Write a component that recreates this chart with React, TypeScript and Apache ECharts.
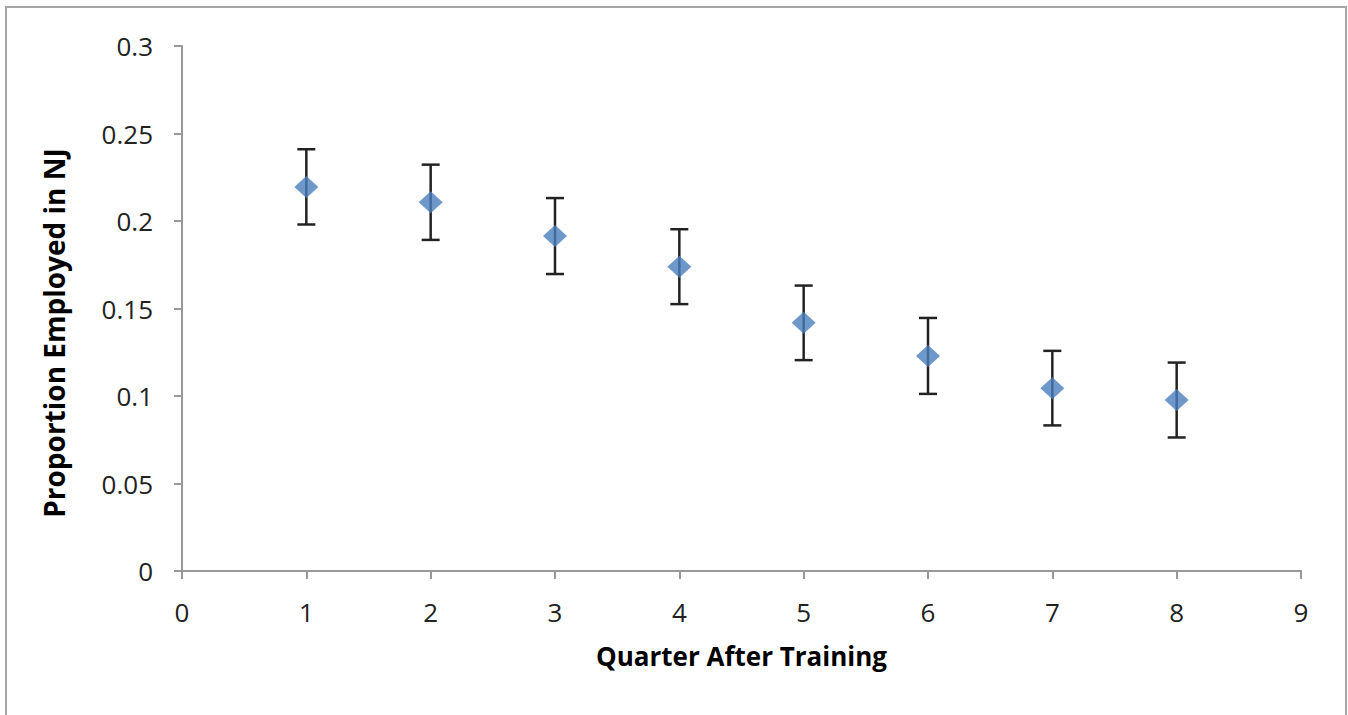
import React, { useEffect, useRef } from "react";
import * as echarts from "echarts";

const quarters = [1, 2, 3, 4, 5, 6, 7, 8];
const proportions = [0.2195, 0.2107, 0.1914, 0.1739, 0.1418, 0.1229, 0.1045, 0.0977];
const errors = [0.0215, 0.0215, 0.0217, 0.0214, 0.0213, 0.0217, 0.0213, 0.0214];
const xTicks = [0, 1, 2, 3, 4, 5, 6, 7, 8, 9];
const yTicks = [0, 0.05, 0.1, 0.15, 0.2, 0.25, 0.3];
const xTitle = "Quarter After Training";
const yTitle = "Proportion Employed in NJ";

export default function App() {
  const ref = useRef<HTMLDivElement>(null);
  useEffect(() => {
    if (!ref.current) return;
    const chart = echarts.init(ref.current, null, { renderer: "svg" });
    const font = "'Open Sans', Lato, sans-serif";
    const errData = quarters.map((q, i) => [q, proportions[i] - errors[i], proportions[i] + errors[i]]);
    chart.setOption({
      animation: false,
      backgroundColor: "#ffffff",
      graphic: [
        {
          type: "rect",
          shape: { x: 6, y: 7, width: 1340, height: 740 },
          style: { fill: "none", stroke: "#a6a6a6", lineWidth: 2 },
          silent: true,
        },
        {
          type: "text",
          x: 54,
          y: 333,
          rotation: Math.PI / 2,
          style: {
            text: yTitle,
            fontFamily: font,
            fontWeight: "bold",
            fontSize: 28,
            fill: "#000",
            textAlign: "center",
            textVerticalAlign: "middle",
          },
        },
      ],
      grid: { left: 182, right: 47, top: 46, bottom: 144 },
      xAxis: {
        type: "value",
        min: xTicks[0],
        max: xTicks[xTicks.length - 1],
        interval: 1,
        name: xTitle,
        nameLocation: "middle",
        nameGap: 72,
        nameTextStyle: { fontFamily: font, fontWeight: "bold", fontSize: 26, color: "#000" },
        axisLine: { onZero: false, lineStyle: { color: "#999", width: 2 } },
        axisTick: { show: true, length: 8, lineStyle: { color: "#999", width: 2 } },
        axisLabel: { fontFamily: font, fontSize: 26, color: "#222", margin: 28 },
        splitLine: { show: false },
      },
      yAxis: {
        type: "value",
        min: yTicks[0],
        max: yTicks[yTicks.length - 1],
        interval: 0.05,
        axisLine: { show: true, lineStyle: { color: "#999", width: 2 } },
        axisTick: { show: true, length: 8, lineStyle: { color: "#999", width: 2 } },
        axisLabel: {
          fontFamily: font,
          fontSize: 26,
          color: "#222",
          margin: 29,
          formatter: (v: number) => String(Math.round(v * 100) / 100),
        },
        splitLine: { show: false },
      },
      series: [
        {
          type: "custom",
          data: errData,
          z: 1,
          renderItem: (params: any, api: any) => {
            const x = api.value(0);
            const lo = api.coord([x, api.value(1)]);
            const hi = api.coord([x, api.value(2)]);
            const cap = 9;
            const style = { stroke: "#222", lineWidth: 2.5 };
            return {
              type: "group",
              children: [
                { type: "line", shape: { x1: hi[0], y1: hi[1], x2: lo[0], y2: lo[1] }, style },
                { type: "line", shape: { x1: hi[0] - cap, y1: hi[1], x2: hi[0] + cap, y2: hi[1] }, style },
                { type: "line", shape: { x1: lo[0] - cap, y1: lo[1], x2: lo[0] + cap, y2: lo[1] }, style },
              ],
            };
          },
        },
        {
          type: "scatter",
          z: 2,
          symbol: "diamond",
          symbolSize: [24, 22],
          itemStyle: { color: "#4A7EBB" },
          data: quarters.map((q, i) => [q, proportions[i]]),
        },
      ],
    });
    return () => chart.dispose();
  }, []);
  return (
    <div
      ref={ref}
      style={{ position: "fixed", left: 0, top: 0, width: 1348, height: 715 }}
    />
  );
}
